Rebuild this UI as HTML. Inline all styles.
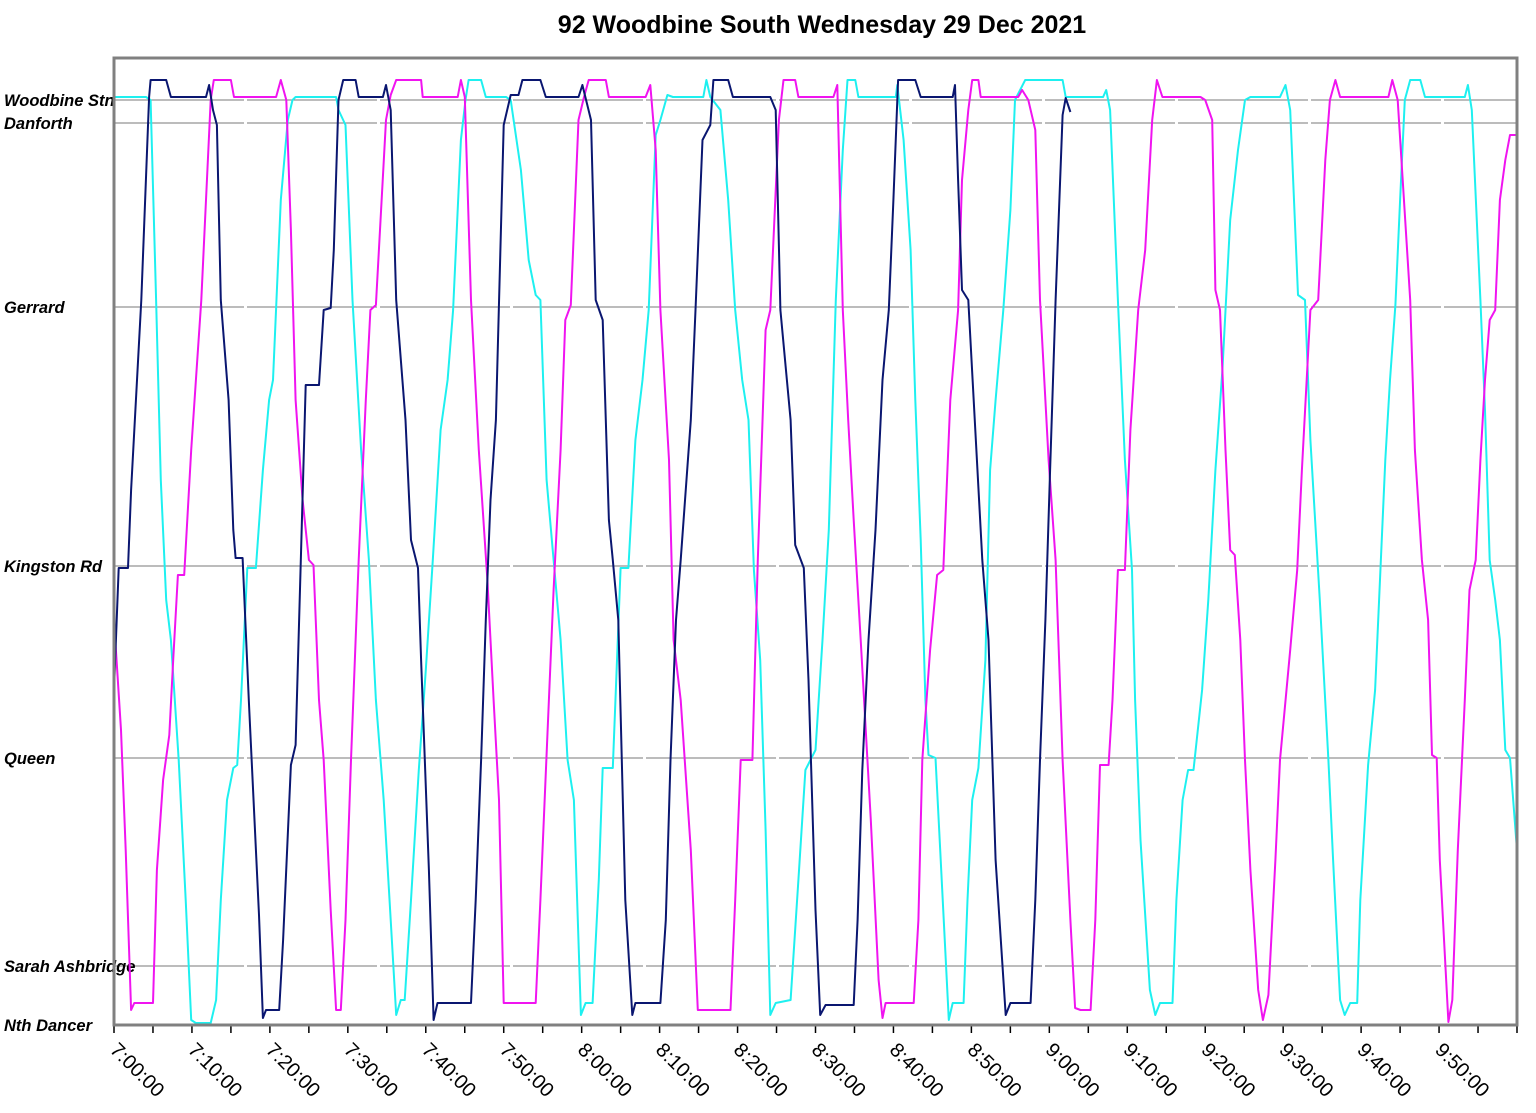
<!DOCTYPE html>
<html><head><meta charset="utf-8"><style>
html,body{margin:0;padding:0;background:#fff;}
svg{display:block;font-family:"Liberation Sans",Arial,sans-serif;}
</style></head><body>
<svg id="chart" width="1536" height="1113" viewBox="0 0 1536 1113">
<text x="822" y="33" text-anchor="middle" font-size="25" font-weight="bold" fill="#000">92 Woodbine South Wednesday 29 Dec 2021</text>
<g id="grid"></g>
<g id="ylabels"></g>
<g id="xaxis"></g>
<g id="series"></g>
<rect x="114" y="58" width="1403" height="967" fill="none" stroke="#808080" stroke-width="3"/>
</svg>
<script>
const stopNames=["Woodbine Stn","Danforth","Gerrard","Kingston Rd","Queen","Sarah Ashbridge","Nth Dancer"];
const stopPos=[92.5,90.2,71.8,45.9,26.7,5.9,0];
const tickLabels=["7:00:00","7:10:00","7:20:00","7:30:00","7:40:00","7:50:00","8:00:00","8:10:00","8:20:00","8:30:00","8:40:00","8:50:00","9:00:00","9:10:00","9:20:00","9:30:00","9:40:00","9:50:00"];
const navySeries=[[0,33.5],[0.6,45.7],[1.8,45.7],[2.2,53.5],[3.5,72.5],[4.5,92.8],[4.7,94.5],[6.7,94.5],[7.3,92.8],[11.8,92.8],[12.2,94.0],[12.7,91.5],[13.2,90.0],[13.7,72.5],[14.7,62.5],[15.3,49.5],[15.6,46.7],[16.5,46.7],[17.3,32.5],[18.6,11.0],[19.1,0.7],[19.5,1.5],[21.2,1.5],[21.7,8.5],[22.7,26.0],[23.3,28.0],[24.0,47.5],[24.6,64.0],[26.3,64.0],[26.9,71.5],[27.8,71.7],[28.2,77.5],[28.8,92.5],[29.4,94.5],[31.0,94.5],[31.4,92.8],[34.5,92.8],[34.9,94.0],[35.5,91.5],[36.2,72.5],[37.4,60.5],[38.1,48.5],[39.0,45.7],[39.4,36.5],[40.4,15.5],[41.0,0.5],[41.5,2.2],[45.8,2.2],[46.4,12.5],[47.1,26.5],[47.7,40.5],[48.3,52.5],[49.0,60.5],[50.0,90.0],[50.9,93.0],[51.9,93.0],[52.4,94.5],[54.7,94.5],[55.4,92.8],[59.6,92.8],[60.1,94.0],[61.2,90.5],[61.8,72.5],[62.7,70.5],[63.5,50.5],[64.0,46.5],[64.7,40.5],[65.6,12.5],[66.5,1.0],[66.9,2.2],[70.1,2.2],[70.8,10.5],[71.4,26.5],[72.1,40.5],[72.7,46.5],[74.0,60.5],[74.6,71.5],[75.5,88.5],[76.5,90.0],[76.9,94.5],[78.8,94.5],[79.4,92.8],[84.2,92.8],[84.9,91.5],[85.5,71.5],[86.8,60.5],[87.4,48.0],[88.5,45.7],[89.1,34.5],[90.0,11.5],[90.6,1.0],[91.3,2.0],[94.9,2.0],[95.4,10.5],[96.0,25.5],[96.8,38.5],[97.7,49.5],[98.6,64.5],[99.4,71.5],[100.0,82.5],[100.6,94.5],[102.8,94.5],[103.5,92.8],[107.6,92.8],[107.9,94.0],[108.3,84.5],[108.8,73.5],[109.6,72.5],[110.5,59.5],[111.4,46.5],[112.2,38.5],[113.1,16.5],[114.4,1.0],[115.0,2.2],[117.6,2.2],[118.2,12.5],[118.8,26.5],[119.5,40.5],[120.1,55.5],[120.8,72.5],[121.7,91.0],[122.1,92.7],[122.7,91.3]];
const magentaSeries=[[0,40.5],[0.9,29.5],[1.5,17.5],[2.2,1.5],[2.6,2.2],[5.0,2.2],[5.5,15.5],[6.3,24.5],[7.1,29],[7.6,36.5],[8.2,45],[9.0,45],[9.9,57.5],[11.2,72.5],[11.8,82.5],[12.4,92.5],[12.8,94.5],[15.0,94.5],[15.4,92.8],[20.8,92.8],[21.4,94.5],[22.1,92.5],[22.7,79.5],[23.3,62.5],[24.2,52.5],[25.0,46.5],[25.6,46],[26.3,32.5],[26.9,26.5],[27.8,11.5],[28.5,1.5],[29.1,1.5],[29.7,10.5],[30.4,26.5],[31.4,46.5],[32.3,62.5],[32.9,71.5],[33.6,72],[34.9,90.5],[35.5,93],[36.2,94.5],[39.4,94.5],[39.6,92.8],[44.1,92.8],[44.5,94.5],[45.0,92.8],[45.8,72.5],[46.8,57.5],[47.9,44.5],[48.7,32.5],[49.4,22.5],[50.0,2.2],[54.1,2.2],[54.7,12.5],[55.8,32.5],[56.4,43.5],[57.3,57.5],[57.9,70.5],[58.6,72],[59.6,90.5],[60.3,92.8],[60.9,94.5],[63.1,94.5],[63.5,92.8],[68.2,92.8],[68.8,94],[69.5,87.5],[70.1,71.5],[71.2,56.5],[71.8,38.5],[72.7,32.5],[74.0,17.5],[74.9,1.5],[79.1,1.5],[79.7,12.5],[80.4,26.5],[81.9,26.5],[82.6,46.5],[83.6,69.5],[84.2,71.5],[85.3,90.5],[85.9,94.5],[87.4,94.5],[87.8,92.8],[92.3,92.8],[92.8,94],[93.5,71.5],[94.2,60.5],[94.9,50.5],[95.8,38.5],[97.1,20.5],[98.1,4.5],[98.6,0.7],[99.0,2.2],[102.6,2.2],[103.2,10.5],[103.7,26.5],[104.7,37.5],[105.6,45],[106.4,45.5],[107.3,62.5],[108.3,71.5],[108.8,84.5],[109.6,91.5],[110.1,94.5],[110.9,94.5],[111.2,92.8],[116.0,92.8],[116.5,93.5],[117.3,92.5],[118.2,89.5],[118.8,72.5],[119.9,56.5],[120.8,46.5],[121.7,26.5],[122.7,10.5],[123.3,1.7],[124.0,1.5],[125.3,1.5],[125.9,10.5],[126.5,26],[127.6,26],[128.1,32.5],[128.8,45.5],[129.7,45.5],[130.4,59.5],[131.4,71.5],[132.3,77.5],[133.2,90.5],[133.8,94.5],[134.5,92.8],[139.4,92.8],[140.0,92.5],[140.9,90.5],[141.3,73.5],[141.9,71.5],[142.6,57.5],[143.2,47.5],[143.8,47],[144.5,38.5],[145.1,26.5],[145.8,15.5],[146.8,3.5],[147.4,0.5],[148.1,3],[149.0,16.5],[149.6,26.5],[150.9,37.5],[151.8,45.5],[152.4,55.5],[153.5,71.5],[154.5,72.5],[155.4,86.5],[156.0,92.5],[156.7,94.5],[157.3,92.8],[163.5,92.8],[164.0,94.5],[164.7,92.5],[166.3,72.5],[166.9,57.5],[167.8,46.5],[168.6,40.5],[169.1,27],[169.7,26.7],[170.1,16.5],[171.2,0.3],[171.7,2.5],[172.4,17.5],[173.3,32.5],[173.9,43.5],[174.7,46.5],[175.3,56.5],[175.9,64.5],[176.5,70.5],[177.2,71.5],[177.8,82.5],[178.5,86.5],[179.1,89],[180,89]];
const cyanSeries=[[0,92.8],[4.1,92.8],[4.7,92.5],[5.4,72.5],[6.0,54.5],[6.7,42.5],[7.3,38.5],[8.3,26.5],[9.2,12.5],[9.9,0.5],[10.5,0.2],[12.4,0.2],[13.1,2.5],[13.7,12.5],[14.5,22.5],[15.3,25.7],[15.8,26],[16.3,32.5],[17.1,45.7],[18.2,45.7],[19.1,55.5],[19.9,62.5],[20.4,64.5],[21.4,82.5],[22.3,90.5],[22.9,92.5],[23.3,92.8],[28.5,92.8],[28.8,91.5],[29.7,90],[30.6,72.5],[31.7,57.5],[32.7,46.5],[33.6,32.5],[34.6,22.5],[35.5,10.5],[36.2,1],[36.8,2.5],[37.3,2.5],[38.1,12.5],[39.1,25.5],[40.0,35.5],[40.9,46.5],[41.9,59.5],[42.8,64.5],[43.5,71.5],[44.5,88.5],[45.1,92.5],[45.5,94.5],[47.1,94.5],[47.7,92.8],[50.3,92.8],[50.9,92.5],[52.2,85.5],[53.2,76.5],[54.1,73],[54.7,72.5],[55.5,54.5],[56.4,46.5],[57.3,38.5],[58.2,26.5],[59.0,22.5],[59.9,1],[60.5,2.2],[61.4,2.2],[62.2,14.5],[62.7,25.7],[64.0,25.7],[65.0,45.7],[66.0,45.7],[66.9,58.5],[67.8,64.5],[68.6,71.5],[69.5,89],[70.1,90.5],[71.0,93],[71.7,92.8],[75.6,92.8],[76.0,94.5],[76.5,92.8],[77.8,91.5],[78.8,82.5],[79.7,71.5],[80.6,64.5],[81.4,60.5],[82.1,45.5],[82.9,36.5],[83.6,19.5],[84.2,1],[84.9,2.2],[86.8,2.5],[87.8,14.5],[88.7,25.5],[90.0,27.5],[90.9,38.5],[91.7,49.5],[92.6,72.5],[93.5,87.5],[94.1,94.5],[95.1,94.5],[95.5,92.8],[100.3,92.8],[100.5,94],[101.3,88.5],[102.2,77.5],[102.8,62.5],[103.5,48.5],[104.1,32.5],[104.5,27],[105.4,26.7],[106.0,17.5],[107.1,0.5],[107.6,2.2],[109.0,2.2],[109.5,12.5],[110.1,22.5],[110.9,25.7],[111.8,36.5],[112.4,55.5],[113.1,62.5],[114.1,71.5],[115.0,81.5],[115.6,92.5],[116.9,94.5],[121.7,94.5],[122.1,92.8],[126.9,92.8],[127.3,93.5],[127.8,91.5],[128.8,72.5],[129.7,56.5],[130.6,45.5],[131.0,32.5],[131.7,18.5],[132.9,3.5],[133.6,1],[134.2,2.2],[135.8,2.2],[136.3,12.5],[137.1,22.5],[137.8,25.5],[138.5,25.5],[139.6,33.5],[140.4,42.5],[141.3,55.5],[142.2,65.5],[143.2,80.5],[144.2,87.5],[145.1,92.5],[145.8,92.8],[149.6,92.8],[150.3,94],[150.9,91.5],[151.9,73],[152.8,72.5],[153.5,58.5],[154.7,42.5],[155.8,26.5],[156.4,16.5],[157.3,2.5],[157.9,1],[158.6,2.2],[159.5,2.2],[159.9,12.5],[160.9,26],[161.8,33.5],[163.1,56.5],[163.7,64.5],[164.4,72],[165.0,82.5],[165.6,92.5],[166.3,94.5],[167.6,94.5],[168.2,92.8],[173.3,92.8],[173.7,94],[174.2,91.5],[175.3,72.5],[175.9,61.5],[176.5,46.5],[177.2,42.5],[177.8,38.5],[178.5,27.5],[179.1,26.7],[180,17.5]];

const X0=114,X1=1517,Y0=1025,Y1=58,TMAX=180,VMAX=96.7;
function xScale(t){return X0+(X1-X0)*t/TMAX;}
function yScale(v){return Y0-(Y0-Y1)*v/VMAX;}
const NS="http://www.w3.org/2000/svg";
function mk(tag,attrs,parent){const e=document.createElementNS(NS,tag);for(const k in attrs)e.setAttribute(k,attrs[k]);parent.appendChild(e);return e;}
const grid=document.getElementById('grid'),ylab=document.getElementById('ylabels'),xax=document.getElementById('xaxis'),ser=document.getElementById('series');
stopNames.forEach((n,i)=>{
  const y=yScale(stopPos[i]);
  if(stopPos[i]>0){
    const l=mk('line',{x1:X0,x2:X1,y1:y,y2:y,stroke:'#7a7a7a','stroke-width':1,'stroke-dasharray':'130 3'},grid);
    
    
  }
  const t=mk('text',{x:4,y:y+6,'font-size':16.5,'font-style':'italic','font-weight':'bold',fill:'#000'},ylab);
  t.textContent=n;
  
  
});
for(let m=0;m<=TMAX;m+=5){
  const x=xScale(m);
  const tk=mk('line',{x1:x,x2:x,y1:Y0,y2:Y0+8,stroke:'#000','stroke-width':1.5},xax);
  
  
}
tickLabels.forEach((lab,i)=>{
  const x=xScale(i*10);
  const t=mk('text',{x:0,y:0,'font-size':20,fill:'#000',transform:'translate('+(x-5)+','+(Y0+26)+') rotate(45)'},xax);
  t.textContent=lab;
  
  
});
function drawSeries(data,color,name){
  const d=data.map((p,i)=>(i?'L':'M')+xScale(p[0]).toFixed(1)+','+yScale(p[1]).toFixed(1)).join(' ');
  const p=mk('path',{d:d,fill:'none',stroke:color,'stroke-width':2,'stroke-linejoin':'round'},ser);
  
  
}
drawSeries(cyanSeries,'#1ef0f0','series-cyan-bus');
drawSeries(magentaSeries,'#f014f0','series-magenta-bus');
drawSeries(navySeries,'#0a1670','series-navy-bus');
</script>
</body></html>
